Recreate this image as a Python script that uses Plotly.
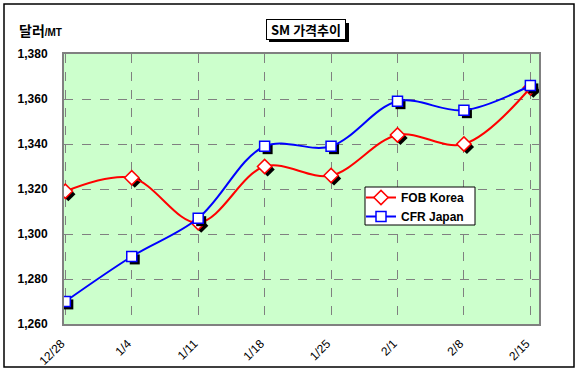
import plotly.graph_objects as go

categories = ["12/28", "1/4", "1/11", "1/18", "1/25", "2/1", "2/8", "2/15"]
fob_korea = [1319, 1325, 1305, 1330, 1326, 1344, 1340, 1365]
cfr_japan = [1270, 1290, 1307, 1339, 1339, 1359, 1355, 1366]
y_ticks = [1260, 1280, 1300, 1320, 1340, 1360, 1380]

idx = list(range(len(categories)))
FONT = "Arial, Liberation Sans, sans-serif"
KFONT = "Noto Sans CJK KR, sans-serif"

# plot area in pixels
L, R, T, B = 64, 539, 54, 324
PW, PH = R - L, B - T


def px_x(p):
    return (p - L) / PW


def px_y(p):
    return (B - p) / PH


# shadow offsets (in axis units, roughly 3px right / down)
sx, sy = 0.045, 1.3

fig = go.Figure()

for vals, color, symbol, size, name in [
    (fob_korea, "#FF0000", "diamond", 11, "FOB Korea"),
    (cfr_japan, "#0000FF", "square", 10, "CFR Japan"),
]:
    fig.add_trace(go.Scatter(
        x=[i + sx for i in idx], y=[v - sy for v in vals], mode="markers",
        marker=dict(symbol=symbol, size=size, color="black", line=dict(width=0)),
        showlegend=False, hoverinfo="skip"))
    fig.add_trace(go.Scatter(
        x=idx, y=vals, mode="lines+markers", name=name,
        line=dict(color=color, width=2, shape="spline", smoothing=1.0),
        marker=dict(symbol=symbol, size=size, color="white",
                    line=dict(color=color, width=1.5))))

fig.update_layout(
    width=581, height=375,
    margin=dict(l=L, r=581 - R, t=T, b=375 - B),
    paper_bgcolor="white", plot_bgcolor="#CCFFCC",
    font=dict(family=FONT, size=11, color="black"),
    showlegend=True,
    legend=dict(x=px_x(361), y=px_y(183), xanchor="left", yanchor="top",
                bgcolor="rgba(0,0,0,0)", borderwidth=0,
                font=dict(family=FONT, size=12, color="black", weight="bold"),
                tracegroupgap=0, itemwidth=30),
)

fig.update_xaxes(
    range=[-0.02, 7.13], tickmode="array", tickvals=idx, ticktext=categories,
    tickangle=-45, showgrid=True, gridcolor="#808080", griddash="dash", gridwidth=1,
    showline=True, linecolor="#808080", linewidth=2, mirror=True,
    ticks="", zeroline=False, ticklabelstandoff=6, ticklabelshift=-4,
    automargin=False,
    tickfont=dict(family=FONT, size=12, color="black"),
)
fig.update_yaxes(
    range=[1260, 1380], tickmode="array", tickvals=y_ticks,
    ticktext=[f"{v:,}" for v in y_ticks],
    showgrid=True, gridcolor="#808080", griddash="dash", gridwidth=1,
    showline=True, linecolor="#808080", linewidth=2, mirror=True,
    ticks="", zeroline=False, ticklabelstandoff=12, automargin=False,
    tickfont=dict(family=FONT, size=12, color="black", weight="bold"),
)

# outer chart border
fig.add_shape(type="rect", xref="paper", yref="paper",
              x0=px_x(4), x1=px_x(574), y0=px_y(367), y1=px_y(4),
              line=dict(color="black", width=1.5), layer="below")

# legend box
fig.add_shape(type="rect", xref="paper", yref="paper",
              x0=px_x(365), x1=px_x(475), y0=px_y(225), y1=px_y(187),
              line=dict(color="black", width=1), fillcolor="white", layer="above")

# title box shadow
fig.add_shape(type="rect", xref="paper", yref="paper",
              x0=px_x(269), x1=px_x(349), y0=px_y(42), y1=px_y(23),
              line=dict(width=0), fillcolor="black", layer="above")

# title
fig.add_annotation(
    xref="paper", yref="paper", x=px_x(306), y=px_y(29.5),
    xanchor="center", yanchor="middle",
    text="<b>SM 가격추이</b>", showarrow=False,
    font=dict(family=KFONT, size=13, color="black"),
    bgcolor="white", bordercolor="black", borderwidth=1,
    width=76, height=17, borderpad=1)

# y axis unit label
fig.add_annotation(
    xref="paper", yref="paper", x=px_x(17), y=px_y(30),
    xanchor="left", yanchor="middle", showarrow=False,
    text="<b>달러</b><b><span style='font-size:10px;font-family:Arial'>/MT</span></b>",
    font=dict(family=KFONT, size=14, color="black"))

fig.write_html("out.html", config={"displayModeBar": False},
               post_script="document.body.style.margin='0';")
